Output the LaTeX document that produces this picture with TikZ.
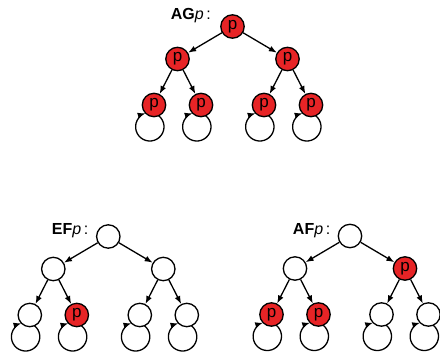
\documentclass[tikz,border=0pt]{standalone}
\usepackage{fontspec}
\setmainfont{Liberation Sans}
\usetikzlibrary{arrows.meta}
\definecolor{statered}{RGB}{231,36,38}
\tikzset{
  st/.style={circle, draw=black, line width=1.3pt, fill=white, minimum size=23.4pt,
             inner sep=0pt},
  pst/.style={st, fill=statered,
              label={[font=\fontsize{17}{17}\selectfont, inner sep=0pt]center:p}},
  tedge/.style={line width=1.3pt, -{Latex[length=8pt,width=6pt]}},
  lbl/.style={anchor=base east, font=\fontsize{16}{16}\selectfont, inner sep=0pt}
}
% self loop below a leaf state, entering it from the lower left
\newcommand\selfloop[1]{%
  \draw[tedge] ([shift={(4.68pt,-10.73pt)}]#1.center)
    arc[start angle=51.3, end angle=-253.1, radius=14.2pt];}
% computation tree: root, two successors, three of the four leaves
\newcommand\comptree[9]{%
  \begin{scope}[shift={(#2,#3)}]
    \node[#4] (#1r) at (0,0) {};
    \node[#5] (#1a) at (-55,-32.5) {};
    \node[#6] (#1b) at (55,-32.5) {};
    \node[#7] (#1c) at (-78.5,-78.5) {};
    \node[#8] (#1d) at (-31.5,-78.5) {};
    \node[#9] (#1e) at (31.5,-78.5) {};
  \end{scope}}
\begin{document}
\begin{tikzpicture}[x=1pt,y=1pt]
\useasboundingbox (0,0) rectangle (440,354);

% AG p
\comptree{g}{232.5}{327.5}{pst}{pst}{pst}{pst}{pst}{pst}
\node[pst] (gf) at (311,249) {};
\node[lbl] (glab) at (211,334.3) {\textbf{AG}\textit{p}\,:};

% EF p
\comptree{e}{108.3}{117.5}{st}{st}{st}{st}{pst}{st}
\node[st] (ef) at (186.8,39) {};
\node[lbl] (elab) at (88.5,119.2) {\textbf{EF}\textit{p}\,:};

% AF p
\comptree{f}{350}{118}{st}{st}{pst}{pst}{pst}{st}
\node[st] (ff) at (428.5,39.5) {};
\node[lbl] (flab) at (330.5,119.3) {\textbf{AF}\textit{p}\,:};

\foreach \t/\z in {g/gf,e/ef,f/ff}{
  \draw[tedge] (\t r) -- (\t a);
  \draw[tedge] (\t r) -- (\t b);
  \draw[tedge] (\t a) -- (\t c);
  \draw[tedge] (\t a) -- (\t d);
  \draw[tedge] (\t b) -- (\t e);
  \draw[tedge] (\t b) -- (\z);
  \selfloop{\t c}
  \selfloop{\t d}
  \selfloop{\t e}
  \selfloop{\z}
}
\end{tikzpicture}
\end{document}
